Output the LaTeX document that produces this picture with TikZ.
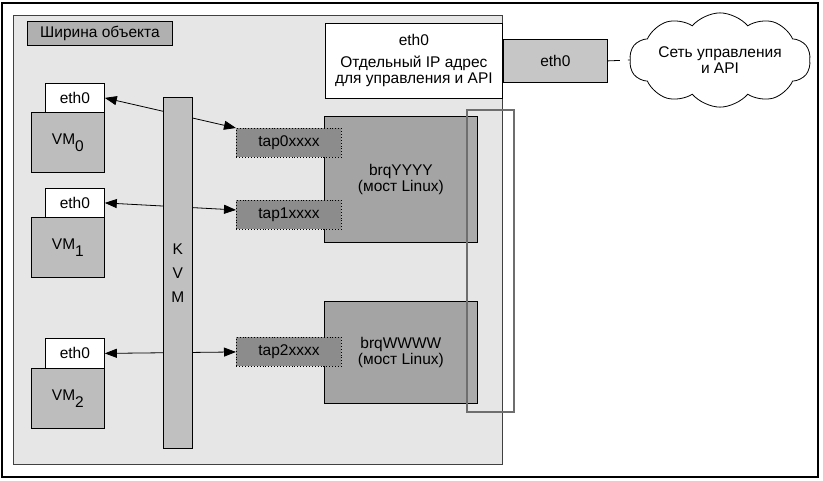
\documentclass[tikz,border=0pt]{standalone}
\usepackage{fontspec}
\setmainfont{Liberation Sans}
\usetikzlibrary{arrows.meta,shapes.symbols}

\definecolor{sfondo}{HTML}{E6E6E6}
\definecolor{grigiovm}{HTML}{BDBDBD}
\definecolor{grigiokvm}{HTML}{C0C0C0}
\definecolor{grigioeth}{HTML}{C6C6C6}
\definecolor{grigiotit}{HTML}{B0B0B0}
\definecolor{grigioponte}{HTML}{A4A4A4}
\definecolor{grigiostriscia}{HTML}{ABABAB}
\definecolor{grigiotap}{HTML}{8C8C8C}
\definecolor{bordo}{HTML}{6E6E6E}

\tikzset{
  casella/.style={draw,inner sep=0pt,anchor=north west,align=center},
  freccia/.style={{Triangle[length=12pt,width=9pt]}-{Triangle[length=12pt,width=9pt]}},
}

\begin{document}
\begin{tikzpicture}[x=1pt,y=-1pt,line width=0.8pt,font=\fontsize{15.5}{16}\selectfont]
  \useasboundingbox (0,0) rectangle (823,480);
  \draw[line width=1.2pt] (2,3) rectangle (818,477);

  % host
  \node[casella,fill=sfondo,draw=black!75,minimum width=489pt,minimum height=449pt] (host) at (13,15) {};
  \node[casella,fill=grigiotit,minimum width=145pt,minimum height=24pt] (titolo) at (27,21) {Ширина объекта};

  \node[casella,fill=white,minimum width=177pt,minimum height=75pt] (gestione) at (325,23)
    {eth0\\[6pt]Отдельный IP адрес\\для управления и API};
  \node[casella,fill=grigioeth,minimum width=104pt,minimum height=43pt] (ethR) at (503,39) {eth0};
  \node[cloud,draw,cloud puffs=10,cloud puff arc=100,aspect=2.4,inner sep=0pt,
        minimum width=181pt,minimum height=75pt,align=center] (rete) at (720,60)
    {Сеть управления\\и API};
  \draw[dash pattern=on 12pt off 8pt] (ethR.east) -- (rete.west);

  % ponti
  \node[casella,fill=grigioponte,minimum width=153pt,minimum height=126pt] (pontey) at (324,116)
    {brqYYYY\\(мост Linux)};
  \node[casella,fill=grigioponte,minimum width=153pt,minimum height=102pt] (pontew) at (324,301)
    {brqWWWW\\(мост Linux)};
  \fill[grigiostriscia] (467,117) rectangle (476.5,241.5);
  \fill[grigiostriscia] (467,302) rectangle (476.5,402.5);
  \draw[bordo,line width=1.8pt] (467,110) rectangle (514,412);

  \begin{scope}[every node/.style={casella,fill=grigiotap,dotted,line width=0.9pt,
      minimum width=105pt,minimum height=29pt}]
    \node (tap0) at (236,128) {tap0xxxx};
    \node (tap1) at (236,200) {tap1xxxx};
    \node (tap2) at (236,337) {tap2xxxx};
  \end{scope}

  % VM
  \begin{scope}[every node/.style={casella}]
    \node[fill=white,minimum width=59pt,minimum height=29pt] (eth0) at (45,83) {eth0};
    \node[fill=grigiovm,minimum width=73pt,minimum height=60pt] (vm0) at (31,112) {VM\raisebox{-7pt}{0}};
    \node[fill=white,minimum width=59pt,minimum height=29pt] (eth1) at (45,188) {eth0};
    \node[fill=grigiovm,minimum width=73pt,minimum height=60pt] (vm1) at (31,217) {VM\raisebox{-7pt}{1}};
    \node[fill=white,minimum width=59pt,minimum height=30pt] (eth2) at (45,338) {eth0};
    \node[fill=grigiovm,minimum width=73pt,minimum height=60pt] (vm2) at (31,368) {VM\raisebox{-7pt}{2}};
  \end{scope}

  \draw[freccia] (eth0.east) -- (tap0.north west);
  \draw[freccia] (eth1.east) -- ([yshift=5pt]tap1.west);
  \draw[freccia] (eth2.east) -- (tap2.west);

  \node[casella,fill=grigiokvm,minimum width=29pt,minimum height=351pt,
        font=\fontsize{15.5}{24}\selectfont] (kvm) at (163,97) {K\\V\\M};
\end{tikzpicture}
\end{document}
